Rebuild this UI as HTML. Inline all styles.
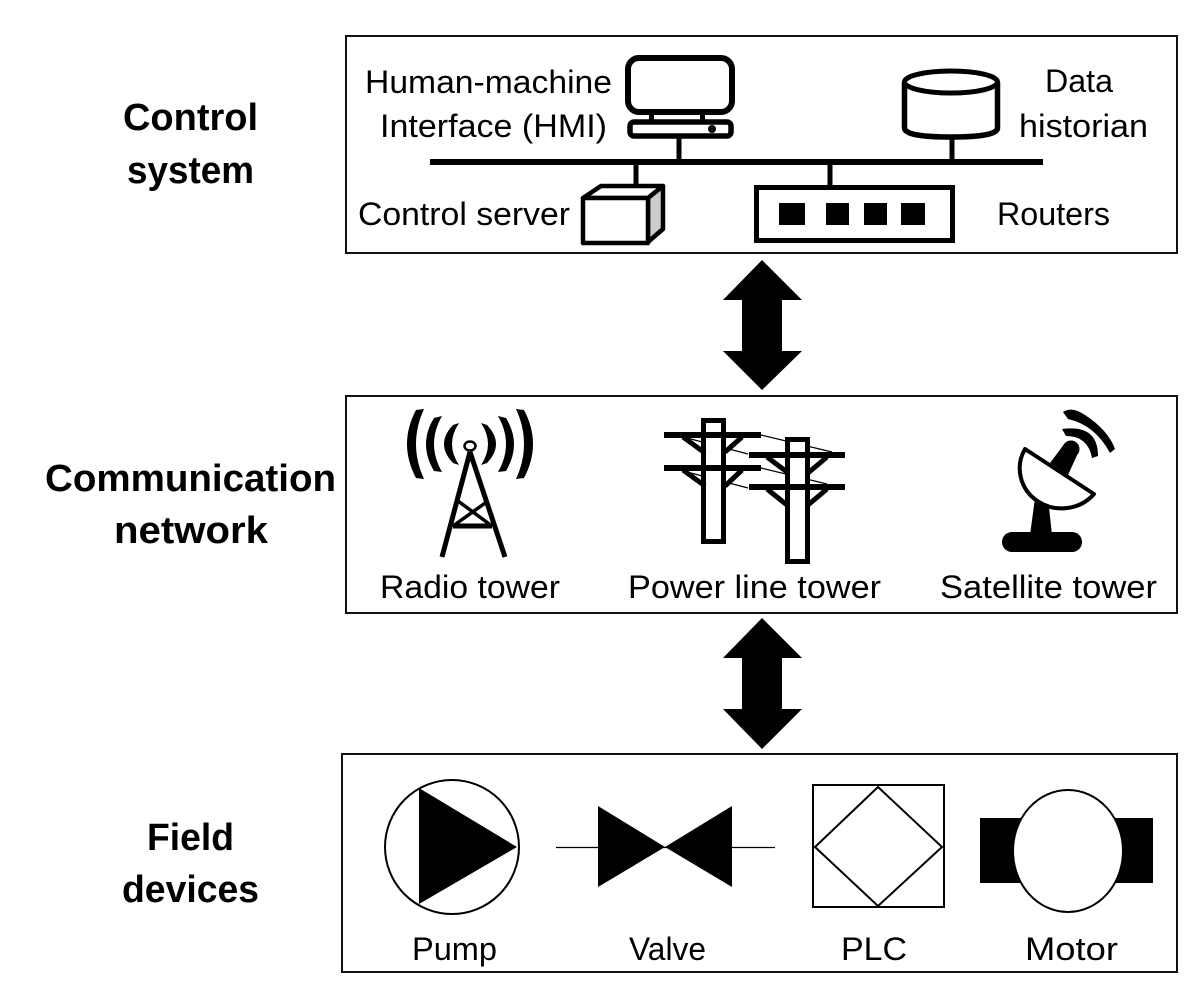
<!DOCTYPE html>
<html>
<head>
<meta charset="utf-8">
<style>
html,body{margin:0;padding:0;background:#fff;}
svg{display:block;}
text{font-family:"Liberation Sans",sans-serif;fill:#000;}
.l{font-size:32px;}
.b{font-size:38px;font-weight:bold;}
</style>
</head>
<body>
<svg width="1200" height="997" viewBox="0 0 1200 997" xmlns="http://www.w3.org/2000/svg">
<rect width="1200" height="997" fill="#fff"/>

<!-- Boxes -->
<g fill="none" stroke="#111" stroke-width="2">
<rect x="346" y="36" width="831" height="217"/>
<rect x="346" y="396" width="831" height="217"/>
<rect x="342" y="754" width="835" height="218"/>
</g>

<!-- Left labels -->
<text class="b" x="123" y="130" textLength="135" lengthAdjust="spacingAndGlyphs">Control</text>
<text class="b" x="127" y="183" textLength="127" lengthAdjust="spacingAndGlyphs">system</text>
<text class="b" x="45" y="491" textLength="291" lengthAdjust="spacingAndGlyphs">Communication</text>
<text class="b" x="114" y="543" textLength="154" lengthAdjust="spacingAndGlyphs">network</text>
<text class="b" x="147" y="850" textLength="87" lengthAdjust="spacingAndGlyphs">Field</text>
<text class="b" x="122" y="902" textLength="137" lengthAdjust="spacingAndGlyphs">devices</text>

<!-- Control system -->
<rect x="430" y="159" width="613" height="6"/>
<rect x="628" y="58" width="104" height="54" rx="11" fill="#fff" stroke="#000" stroke-width="6"/>
<rect x="649" y="113" width="5" height="7"/><rect x="700" y="113" width="5" height="7"/>
<rect x="630" y="122" width="101" height="14" rx="4" fill="#fff" stroke="#000" stroke-width="5.500"/>
<circle cx="712" cy="129" r="4"/>
<rect x="676.500" y="137" width="5" height="24"/>

<rect x="633.500" y="164" width="5" height="22"/>
<g stroke-linejoin="round">
<polygon points="583,198 601,186 663,186 648,198" fill="#fff" stroke="#000" stroke-width="4.500"/>
<polygon points="648,198 663,186 663,229 648,242" fill="#ccc" stroke="#000" stroke-width="4.500"/>
<rect x="583" y="198" width="65" height="45" fill="#fff" stroke="#000" stroke-width="4.500"/>
</g>

<rect x="827.500" y="164" width="5" height="22"/>
<rect x="756.500" y="187.500" width="196" height="53" fill="#fff" stroke="#000" stroke-width="5"/>
<rect x="779" y="203" width="26" height="22"/><rect x="826" y="203" width="23" height="22"/>
<rect x="864" y="203" width="23" height="22"/><rect x="901" y="203" width="24" height="22"/>

<path d="M904.500 82V128Q904.500 137 951 137T997.500 128V82" fill="#fff" stroke="#000" stroke-width="5.500"/>
<ellipse cx="951" cy="82" rx="46.500" ry="11" fill="#fff" stroke="#000" stroke-width="5"/>
<rect x="949.500" y="138" width="5" height="22"/>

<text class="l" x="365" y="93" textLength="247" lengthAdjust="spacingAndGlyphs">Human-machine</text>
<text class="l" x="380" y="137" textLength="227" lengthAdjust="spacingAndGlyphs">Interface (HMI)</text>
<text class="l" x="358" y="225" textLength="212" lengthAdjust="spacingAndGlyphs">Control server</text>
<text class="l" x="1045" y="92" textLength="68" lengthAdjust="spacingAndGlyphs">Data</text>
<text class="l" x="1019" y="137" textLength="129" lengthAdjust="spacingAndGlyphs">historian</text>
<text class="l" x="997" y="225" textLength="113" lengthAdjust="spacingAndGlyphs">Routers</text>

<!-- Double arrows -->
<polygon points="762,260 802,300 782,300 782,351 802,351 762,390 723,351 742,351 742,300 723,300"/>
<polygon points="762,618 802,658 782,658 782,709 802,709 762,749 723,709 742,709 742,658 723,658"/>

<!-- Radio tower -->
<g>
<path d="M416 410Q398 444 416 478L424 479Q408 444 424 409Z"/>
<path d="M434 418Q418 444 434 471L442 472Q426 444 442 416Z"/>
<path d="M453 425Q435 444 453 463L459 465Q445 444 459 423Z"/>
<path transform="translate(940,0) scale(-1,1)" d="M416 410Q398 444 416 478L424 479Q408 444 424 409Z"/>
<path transform="translate(940,0) scale(-1,1)" d="M434 418Q418 444 434 471L442 472Q426 444 442 416Z"/>
<path transform="translate(940,0) scale(-1,1)" d="M453 425Q435 444 453 463L459 465Q445 444 459 423Z"/>
</g>
<ellipse cx="470" cy="446" rx="5.500" ry="4.500" fill="#fff" stroke="#000" stroke-width="2.500"/>
<g fill="none" stroke="#000" stroke-width="5">
<path d="M470 452L442 557M470 452L505 557"/>
<path d="M453 526H492"/>
</g>
<path d="M458 501L492 526M488 501L453 526" fill="none" stroke="#000" stroke-width="3.500"/>

<!-- Power towers -->
<g fill="none" stroke="#000" stroke-width="1.200">
<path d="M761 435L832 452M687 438L748 454M761 468L827 484M687 472L748 488"/>
</g>
<rect x="703.500" y="420.500" width="20" height="121" fill="#fff" stroke="#000" stroke-width="5"/>
<rect x="787.500" y="439.500" width="20" height="122" fill="#fff" stroke="#000" stroke-width="5"/>
<g fill="none" stroke="#000" stroke-width="6">
<path d="M664 435H761M664 468H761M749 455H845M749 487H845"/>
</g>
<g fill="none" stroke="#000" stroke-width="5">
<path d="M683 437L705 453M742 437L725 452M683 470L705 486M742 470L725 486"/>
<path d="M767 457L787 472M827 457L808 473M767 489L787 505M827 489L808 505"/>
</g>

<!-- Satellite -->
<rect x="1002" y="532" width="80" height="20" rx="10"/>
<polygon points="1035,498 1048,498 1052,535 1030,535"/>
<polygon points="1050,463 1065,443 1078,453 1068,475"/>
<circle cx="1071" cy="449" r="8.500"/>
<path d="M1025 449L1094 494A42 40 0 0 1 1025 449Z" fill="#fff" stroke="#000" stroke-width="4" stroke-linejoin="round"/>
<path d="M1062 429Q1098 424 1098 456L1092 458Q1088 436 1066 436Z"/>
<path d="M1063 412Q1072 406 1085 415Q1108 430 1115 449L1110 453Q1095 425 1068 419Z"/>

<text class="l" x="380" y="598" textLength="180" lengthAdjust="spacingAndGlyphs">Radio tower</text>
<text class="l" x="628" y="598" textLength="253" lengthAdjust="spacingAndGlyphs">Power line tower</text>
<text class="l" x="940" y="598" textLength="217" lengthAdjust="spacingAndGlyphs">Satellite tower</text>

<!-- Field devices -->
<circle cx="452" cy="847" r="67" fill="#fff" stroke="#000" stroke-width="2"/>
<polygon points="419,788 517,847 419,904"/>
<path d="M556 847.500H775" stroke="#000" stroke-width="1.200"/>
<polygon points="598,806 665,847 598,887"/>
<polygon points="732,806 665,847 732,887"/>
<rect x="813" y="785" width="131" height="122" fill="#fff" stroke="#000" stroke-width="2"/>
<polygon points="878,787 942,847 878,906 815,847" fill="#fff" stroke="#000" stroke-width="2"/>
<rect x="980" y="818" width="173" height="65"/>
<ellipse cx="1068" cy="851" rx="55" ry="61" fill="#fff" stroke="#000" stroke-width="2"/>

<text class="l" x="412" y="960" textLength="85" lengthAdjust="spacingAndGlyphs">Pump</text>
<text class="l" x="629" y="960" textLength="77" lengthAdjust="spacingAndGlyphs">Valve</text>
<text class="l" x="841" y="960" textLength="66" lengthAdjust="spacingAndGlyphs">PLC</text>
<text class="l" x="1025" y="960" textLength="93" lengthAdjust="spacingAndGlyphs">Motor</text>
</svg>
</body>
</html>
